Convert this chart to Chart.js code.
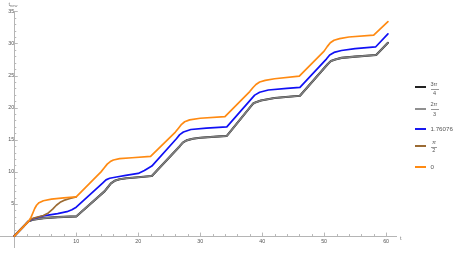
<!DOCTYPE html>
<html><head><meta charset="utf-8">
<script src="https://cdn.jsdelivr.net/npm/chart.js@4.4.1/dist/chart.umd.min.js"></script>
<style>
html,body{margin:0;padding:0;background:#fff;}
#wrap{position:relative;width:457px;height:253px;overflow:hidden;font-family:"Liberation Sans",Arial,sans-serif;color:#555;}
canvas{position:absolute;left:0;top:0;}
.t{position:absolute;white-space:nowrap;line-height:1;}
.sw{position:absolute;height:2px;width:11px;left:415px;}
.bar{position:absolute;height:0.5px;background:#999;}
</style></head><body>
<div id="wrap"><canvas id="c" width="457" height="253"></canvas></div>
<script>
// ---- data ----
const seriesLabels = ["3π/4", "2π/3", "1.76076", "π/2", "0"];

const tOrange = [0,2.3,2.7,3.0,3.3,3.6,4.0,4.7,6,8,10,14,14.5,15.0,15.5,16,17,19,22,26,26.5,27.0,27.5,28.3,30,34,38,38.5,39.0,39.6,40.5,42,46,50,50.5,51,51.6,52.5,54,58,60.3];
const vOrange = [0,2.3,2.9,3.6,4.3,4.8,5.2,5.5,5.75,5.95,6.1,10.0,10.6,11.2,11.6,11.85,12.05,12.2,12.4,16.2,16.8,17.4,17.8,18.1,18.35,18.6,22.5,23.1,23.6,24.0,24.25,24.5,24.9,28.8,29.5,30.1,30.5,30.75,31.0,31.3,33.4];

const tBrown = [0,2.3,3.0,4.7,5.5,6.2,6.8,7.4,8,9,10];
const vBrown = [0,2.3,2.75,3.2,3.6,4.2,4.8,5.25,5.55,5.85,6.1];

const tBlue = [0,2.3,3,4.7,7,8.5,9.3,10,14.3,14.8,15.4,16.5,18,20,21,22.2,26.2,26.7,27.3,28.5,31,34.3,38.3,38.8,39.6,41,44,46.1,50.4,50.9,51.6,52.8,55,58.3,60.3];
const vBlue = [0,2.3,2.7,3.15,3.5,3.8,4.1,4.5,8.3,8.75,9.0,9.2,9.45,9.75,10.2,10.9,15.2,15.8,16.2,16.6,16.8,17.0,21.4,21.95,22.4,22.75,23.0,23.15,27.6,28.2,28.6,28.9,29.2,29.45,31.5];

const tGray = [0,2.3,3,4.7,7,10,14.6,15.1,15.6,16.2,17,18.1,20,22.2,26.7,27.2,27.8,28.8,30,34.3,38.5,39.0,39.8,42,46.1,50.6,51.1,51.8,52.8,55,58.4,60.3];
const vGray = [0,2.3,2.55,2.8,2.95,3.06,7.0,7.6,8.2,8.6,8.85,9.0,9.15,9.35,14.0,14.55,14.9,15.15,15.3,15.6,20.6,20.85,21.1,21.5,21.85,26.8,27.25,27.5,27.75,27.95,28.2,30.1];

const tBlack = tGray;
const vBlack = vGray;

const xTickValues = [10,20,30,40,50,60];
const yTickValues = [5,10,15,20,25,30,35];
const xMinorStep = 2;
const yMinorStep = 1;

function pts(ts, vs){ return ts.map((t,i)=>({x:t,y:vs[i]})); }

const ds = (label, ts, vs, color, w) => ({
  label, data: pts(ts, vs), borderColor: color, backgroundColor: color,
  borderWidth: w, pointRadius: 0, fill: false, tension: 0,
  borderJoinStyle: 'round', borderCapStyle: 'round'
});

// dataset 0 is drawn on top in Chart.js, so list top-most first
const datasets = [
  ds(seriesLabels[4], tOrange, vOrange, '#FF8A12', 1.7),
  ds(seriesLabels[3], tBrown, vBrown, '#9B6B34', 1.7),
  ds(seriesLabels[2], tBlue, vBlue, '#1010F5', 1.7),
  ds(seriesLabels[1], tGray, vGray, '#808080', 1.6),
  ds(seriesLabels[0], tBlack, vBlack, '#222222', 2.1)
];

const minorTicks = {
  id: 'minorTicks',
  afterDraw(chart){
    const {ctx, scales:{x, y}} = chart;
    const x0 = x.getPixelForValue(0), y0 = y.getPixelForValue(0);
    ctx.save();
    ctx.strokeStyle = '#b8b8b8';
    ctx.lineWidth = 1;
    ctx.beginPath();
    for (let v = xMinorStep; v <= 60; v += xMinorStep) {
      const px = Math.round(x.getPixelForValue(v)) + 0.5;
      const len = xTickValues.includes(v) ? 3.5 : 2;
      ctx.moveTo(px, y0); ctx.lineTo(px, y0 - len);
    }
    for (let v = yMinorStep; v <= 35; v += yMinorStep) {
      const py = Math.round(y.getPixelForValue(v)) + 0.5;
      const len = yTickValues.includes(v) ? 3.5 : 2;
      ctx.moveTo(x0, py); ctx.lineTo(x0 + len, py);
    }
    ctx.stroke();
    ctx.restore();
  }
};

new Chart(document.getElementById('c'), {
  type: 'line',
  data: { datasets },
  options: {
    responsive: false, animation: false,
    layout: { padding: { left: 0, right: 61, top: 11, bottom: 1 } },
    plugins: { legend: { display: false }, tooltip: { enabled: false } },
    scales: {
      x: {
        type: 'linear', min: -2.3, max: 61.6, position: { y: 0 },
        grid: { display: false, drawTicks: false },
        border: { display: true, color: '#b5b5b5', width: 1 },
        ticks: { color: '#555', font: { size: 5.3, family: 'Liberation Sans' }, padding: 2, maxRotation: 0, autoSkip: false },
        afterBuildTicks: s => { s.ticks = xTickValues.map(v => ({ value: v })); }
      },
      y: {
        type: 'linear', min: -1.83, max: 35.05, position: { x: 0 },
        grid: { display: false, drawTicks: false },
        border: { display: true, color: '#b5b5b5', width: 1 },
        ticks: { color: '#555', font: { size: 5.3, family: 'Liberation Sans' }, padding: 2, autoSkip: false },
        afterBuildTicks: s => { s.ticks = yTickValues.map(v => ({ value: v })); }
      }
    }
  },
  plugins: [minorTicks]
});

// ---- HTML text: axis titles and legend ----
const wrap = document.getElementById('wrap');
function txt(html, left, top, size, extra){
  const d = document.createElement('div');
  d.className = 't';
  d.innerHTML = html;
  d.style.left = left + 'px'; d.style.top = top + 'px';
  d.style.fontSize = size + 'px';
  if (extra) Object.assign(d.style, extra);
  wrap.appendChild(d);
  return d;
}
function bar(left, top, w){
  const d = document.createElement('div');
  d.className = 'bar'; d.style.left = left+'px'; d.style.top = top+'px'; d.style.width = w+'px';
  wrap.appendChild(d);
}
function swatch(color, cy){
  const d = document.createElement('div');
  d.className = 'sw'; d.style.background = color; d.style.top = (cy-1)+'px';
  wrap.appendChild(d);
}
txt('t<span style="font-size:4px;position:relative;top:1.5px;">new</span>', 8.5, 1.5, 5.5, {color:'#777'});
txt('t', 400, 235.5, 5.5, {color:'#777'});

swatch('#222222', 86.7);
txt('3<i>π</i>', 430.5, 81.5, 5.5);
bar(430.5, 88.5, 8);
txt('4', 433, 90.8, 5.5);

swatch('#909090', 109);
txt('2<i>π</i>', 430.5, 102.3, 5.5);
bar(430.5, 109.2, 8);
txt('3', 433, 111.6, 5.5);

swatch('#1818f0', 129);
txt('1.76076', 430.5, 126, 6.2);

swatch('#9B6B34', 146);
txt('<i>π</i>', 432.3, 140, 5.5);
bar(431, 146.6, 6);
txt('2', 432.3, 148.3, 5.5);

swatch('#FF8A12', 166.7);
txt('0', 430.5, 163.6, 6.2);
</script>
</body></html>
